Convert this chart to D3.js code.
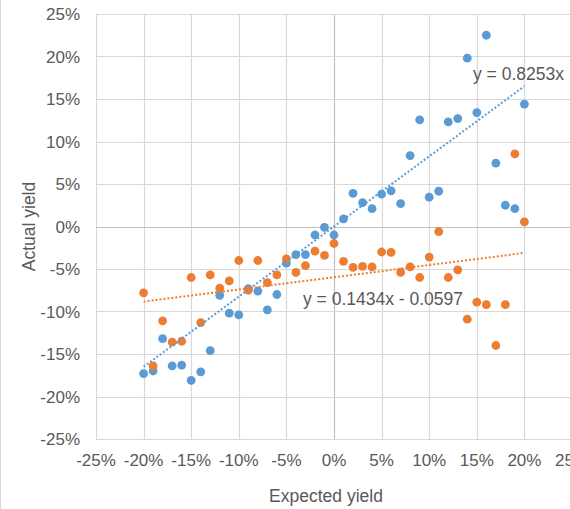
<!DOCTYPE html>
<html>
<head>
<meta charset="utf-8">
<script src="https://cdn.jsdelivr.net/npm/d3@7"></script>
<style>
    body { margin: 0; background: #fff; }
    svg { display: block; font-family: "Liberation Sans", Arial, sans-serif; }
</style>
</head>
<body>
<svg id="chart" width="570" height="509"></svg>
<script>
// expected yield (%), same x for both series
var expectedYield = [-20, -19, -18, -17, -16, -15, -14, -13, -12, -11, -10, -9, -8, -7, -6, -5, -4, -3, -2, -1,
    0, 1, 2, 3, 4, 5, 6, 7, 8, 9, 10, 11, 12, 13, 14, 15, 16, 17, 18, 19, 20];

// actual yield (%) - blue series
var actualBlue = [-17.3, -17.0, -13.2, -16.4, -16.3, -18.1, -17.1, -14.6, -8.1, -10.2, -10.4, -7.3, -7.6, -9.8, -8.0, -4.3, -3.3, -3.3, -1.0, -0.1,
    -1.0, 0.9, 3.9, 2.8, 2.1, 3.8, 4.2, 2.7, 8.35, 12.55, 3.45, 4.15, 12.3, 12.7, 19.8, 13.4, 22.5, 7.45, 2.5, 2.1, 14.4];

// actual yield (%) - orange series
var actualOrange = [-7.8, -16.4, -11.1, -13.6, -13.5, -6.0, -11.3, -5.7, -7.25, -6.4, -4.0, -7.5, -4.0, -6.6, -5.7, -3.8, -5.4, -4.6, -2.9, -3.4,
    -2.0, -4.1, -4.8, -4.7, -4.75, -3.0, -3.05, -5.4, -4.75, -6.0, -3.6, -0.6, -6.0, -5.1, -10.9, -8.9, -9.2, -14.0, -9.2, 8.55, 0.55];

// trendlines as shown in the chart labels (fractions)
var trendBlue = {slope: 0.8253, intercept: 0, label: "y = 0.8253x"};
var trendOrange = {slope: 0.1434, intercept: -0.0597, label: "y = 0.1434x - 0.0597"};

var tickValues = [-25, -20, -15, -10, -5, 0, 5, 10, 15, 20, 25];

var svg = d3.select("#chart");

var plot = {left: 96, right: 572, top: 14, bottom: 439};

var xScale = d3.scaleLinear().domain([-25, 25]).range([plot.left, plot.right]);
var yScale = d3.scaleLinear().domain([-25, 25]).range([plot.bottom, plot.top]);

var textColor = "#595959";
var gridColor = "#d9d9d9";

// chart border (only left edge is visible in the crop)
svg.append("line")
    .attr("x1", 0.5).attr("x2", 0.5)
    .attr("y1", 0).attr("y2", 509)
    .style("stroke", gridColor);

// gridlines
var grid = svg.append("g").attr("class", "grid");
grid.selectAll(".vgrid")
    .data(tickValues)
    .enter()
    .append("line")
    .attr("x1", function (d) { return Math.round(xScale(d)) + 0.5; })
    .attr("x2", function (d) { return Math.round(xScale(d)) + 0.5; })
    .attr("y1", plot.top)
    .attr("y2", plot.bottom)
    .style("stroke", function (d) { return d === 0 ? "#bfbfbf" : gridColor; })
    .style("stroke-width", 1.2);
grid.selectAll(".hgrid")
    .data(tickValues)
    .enter()
    .append("line")
    .attr("y1", function (d) { return Math.round(yScale(d)) + 0.5; })
    .attr("y2", function (d) { return Math.round(yScale(d)) + 0.5; })
    .attr("x1", plot.left)
    .attr("x2", plot.right)
    .style("stroke", function (d) { return d === 0 ? "#bfbfbf" : gridColor; })
    .style("stroke-width", 1.2);

// tick labels
svg.append("g")
    .attr("class", "yAxisG")
    .selectAll("text")
    .data(tickValues)
    .enter()
    .append("text")
    .attr("x", 80)
    .attr("y", function (d) { return yScale(d); })
    .attr("dy", "0.36em")
    .attr("text-anchor", "end")
    .style("font-size", "17px")
    .style("fill", textColor)
    .text(function (d) { return d + "%"; });

svg.append("g")
    .attr("class", "xAxisG")
    .selectAll("text")
    .data(tickValues)
    .enter()
    .append("text")
    .attr("x", function (d) { return xScale(d); })
    .attr("y", 466)
    .attr("text-anchor", "middle")
    .style("font-size", "17px")
    .style("fill", textColor)
    .text(function (d) { return d + "%"; });

// axis titles
svg.append("text")
    .attr("x", (plot.left + plot.right) / 2 - 8)
    .attr("y", 502)
    .attr("text-anchor", "middle")
    .style("font-size", "17.5px")
    .style("fill", textColor)
    .text("Expected yield");

svg.append("text")
    .attr("transform", "translate(35," + ((plot.top + plot.bottom) / 2) + ") rotate(-90)")
    .attr("text-anchor", "middle")
    .style("font-size", "17.5px")
    .style("fill", textColor)
    .text("Actual yield");

// points
function drawSeries(values, color) {
    svg.append("g")
        .selectAll("circle")
        .data(values)
        .enter()
        .append("circle")
        .attr("cx", function (d, i) { return xScale(expectedYield[i]); })
        .attr("cy", function (d) { return yScale(d); })
        .attr("r", 4.4)
        .style("fill", color);
}
drawSeries(actualBlue, "#5b9bd5");
drawSeries(actualOrange, "#ed7d31");

// trendlines
function drawTrend(trend, color) {
    var xExtent = d3.extent(expectedYield);
    var pts = xExtent.map(function (x) {
        return [x, (trend.slope * x / 100 + trend.intercept) * 100];
    });
    svg.append("line")
        .attr("x1", xScale(pts[0][0]))
        .attr("y1", yScale(pts[0][1]))
        .attr("x2", xScale(pts[1][0]))
        .attr("y2", yScale(pts[1][1]))
        .style("stroke", color)
        .style("stroke-width", 2)
        .style("stroke-dasharray", "2,2");
}
drawTrend(trendBlue, "#5b9bd5");
drawTrend(trendOrange, "#ed7d31");

// trendline labels
svg.append("text")
    .attr("x", 473)
    .attr("y", 80)
    .style("font-size", "17.5px")
    .style("fill", textColor)
    .text(trendBlue.label);

svg.append("text")
    .attr("x", 303)
    .attr("y", 305)
    .style("font-size", "17.5px")
    .style("fill", textColor)
    .text(trendOrange.label);
</script>
</body>
</html>
